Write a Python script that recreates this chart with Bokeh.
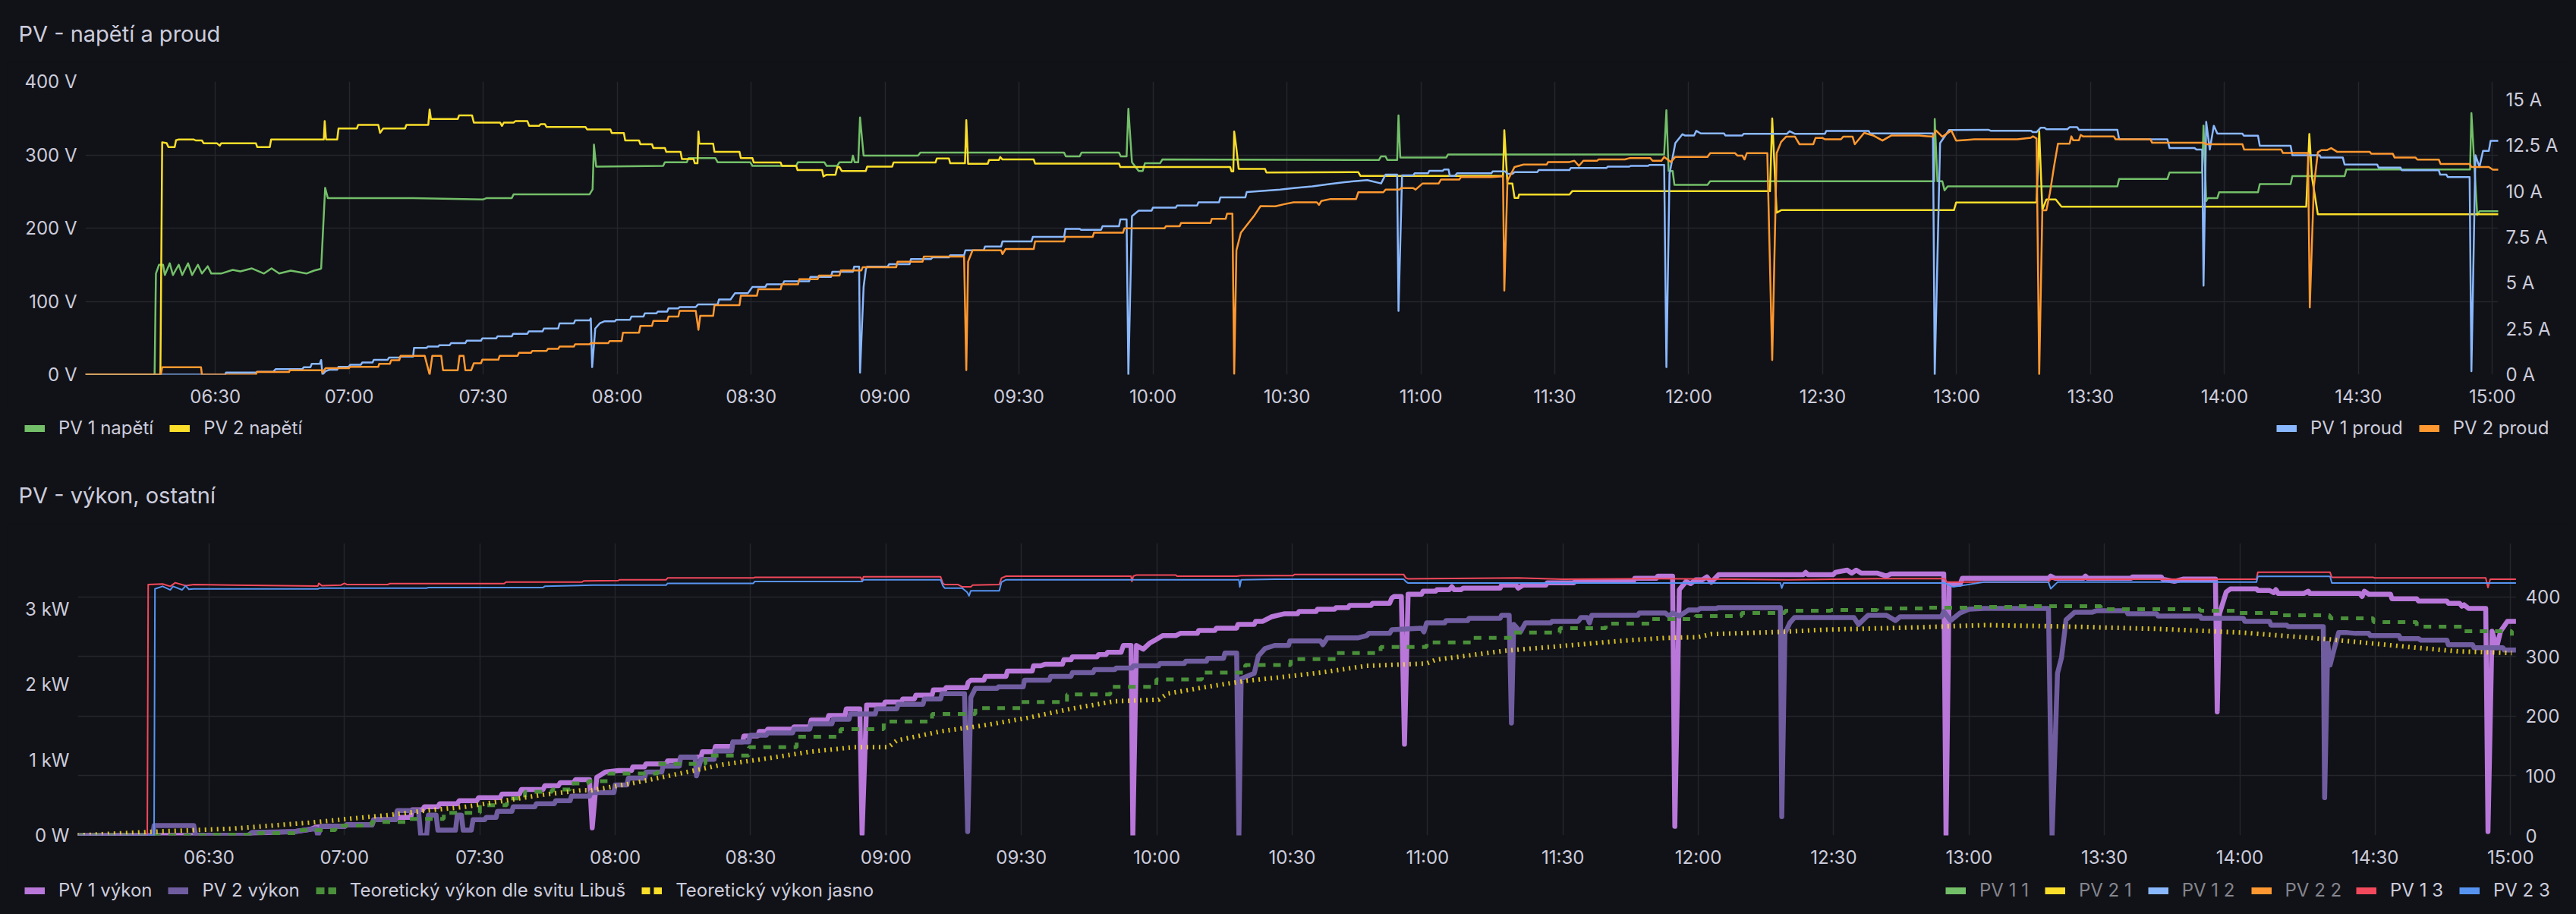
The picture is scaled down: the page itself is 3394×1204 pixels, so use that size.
from bokeh.plotting import figure
from bokeh.models import Range1d, LinearAxis, FixedTicker, Label, Legend, LegendItem, ColumnDataSource
from bokeh.layouts import column
from bokeh.embed import file_html
from bokeh.resources import INLINE
from bokeh.core.properties import value
from jinja2 import Template

# ---------------------------------------------------------------- data
# time = minutes after 06:00
x_tick_labels = ["06:30", "07:00", "07:30", "08:00", "08:30", "09:00", "09:30", "10:00",
                 "10:30", "11:00", "11:30", "12:00", "12:30", "13:00", "13:30", "14:00",
                 "14:30", "15:00"]
x_window = (0.9, 541.3)

top_title = "PV - napětí a proud"
bottom_title = "PV - výkon, ostatní"

top_left_ticks = [0, 100, 200, 300, 400]
top_left_labels = ["0 V", "100 V", "200 V", "300 V", "400 V"]
top_right_ticks = [0, 2.5, 5, 7.5, 10, 12.5, 15]
top_right_labels = ["0 A", "2.5 A", "5 A", "7.5 A", "10 A", "12.5 A", "15 A"]
bot_left_ticks = [0, 1, 2, 3]
bot_left_labels = ["0 W", "1 kW", "2 kW", "3 kW"]
bot_right_ticks = [0, 100, 200, 300, 400]
bot_right_labels = ["0", "100", "200", "300", "400"]

# PV 1 napětí [V]
pv1_napeti = [(0.9, 0), (16.4, 0), (16.7, 138), (17.4, 150), (18.3, 150), (18.7, 136), (19.8, 152), (20.5, 136),
              (21.8, 150), (22.6, 136), (23.9, 152), (24.8, 136), (26.1, 150), (27.0, 138), (28.3, 148), (29.1, 138),
              (31.3, 138), (33.9, 143), (35.6, 141), (38.2, 145), (40.9, 138), (42.6, 145), (44.3, 138), (46.9, 142),
              (50.4, 138), (52.1, 142), (53.4, 144), (53.7, 145), (54.6, 255), (55.2, 241), (74.3, 241), (89.9, 239),
              (90.8, 241), (96.4, 241), (96.8, 246), (113.8, 246), (114.5, 253), (114.8, 314), (115.3, 284),
              (130.3, 285), (130.7, 290), (135.6, 290), (136.0, 295.5), (142.0, 295.5), (142.5, 290), (149.8, 290),
              (150.3, 285), (160.1, 285), (160.5, 290), (166.4, 290), (166.9, 285), (169.3, 285), (169.8, 290),
              (172.5, 290), (172.8, 299), (173.2, 290), (174.0, 290), (174.4, 351), (175.2, 299), (187.4, 299),
              (187.9, 303), (220.1, 303), (220.5, 298), (223.6, 298), (224.0, 303), (232.4, 303), (232.8, 298),
              (234.1, 298), (234.5, 363), (235.3, 290), (236.8, 278), (237.7, 278), (238.2, 288.5), (241.6, 288.5),
              (242.1, 293.7), (290.6, 293), (291.1, 298), (292.1, 298), (292.5, 293), (294.7, 293), (295.0, 354),
              (295.4, 296.5), (305.7, 296.5), (306.1, 300.6), (354.5, 300.6), (355.0, 361), (355.5, 278),
              (356.4, 278), (356.8, 259), (364.2, 259), (364.8, 264), (415.0, 264), (415.1, 349), (415.7, 264),
              (416.8, 264), (417.3, 251.5), (418.0, 257), (456.0, 257), (456.4, 267), (467.2, 267), (467.7, 276),
              (475.0, 276), (475.3, 340), (475.9, 237), (476.3, 241), (478.4, 241), (478.8, 249), (487.5, 249),
              (487.9, 260), (494.8, 260), (495.2, 271), (506.9, 271), (507.3, 280), (535.0, 280), (535.3, 357),
              (536.6, 218), (537.1, 223), (541.4, 223)]

# PV 2 napětí [V]
pv2_napeti = [(0.9, 0), (17.7, 0), (18.1, 317), (19.1, 316), (19.5, 310.6), (20.9, 310.6), (21.2, 320), (21.8, 321),
              (25.2, 321), (25.6, 319.7), (27.0, 319.7), (27.4, 315.7), (30.4, 315.7), (31.0, 312.6), (31.3, 315.7),
              (39.1, 315.7), (39.4, 310.6), (42.2, 310.6), (42.5, 321), (54.3, 321), (54.5, 346), (54.8, 321),
              (57.3, 321), (57.6, 336), (61.7, 336), (62.0, 341), (66.5, 341), (66.9, 330), (67.6, 336), (72.5, 336),
              (72.8, 341), (77.7, 341), (78.0, 362), (78.3, 349), (84.3, 349), (84.6, 354), (87.5, 354), (87.9, 344),
              (93.8, 344), (94.2, 339.6), (94.6, 344), (96.8, 344), (97.2, 346), (99.9, 346), (100.3, 339.6),
              (102.5, 339.6), (102.9, 342), (103.8, 342), (104.2, 338), (112.9, 338), (113.3, 334.6), (118.5, 334.6),
              (118.8, 329.7), (121.5, 329.7), (121.8, 319.7), (124.9, 319.7), (125.2, 314.5), (127.8, 314.5),
              (128.1, 309.3), (130.7, 309.3), (131.0, 304.1), (134.2, 304.1), (134.5, 294.4), (137.1, 294.4),
              (137.4, 288.5), (138.0, 288.5), (138.2, 331.8), (138.4, 315.2), (141.5, 315.2), (141.8, 304.1),
              (147.4, 304.1), (147.7, 295.5), (150.3, 295.5), (150.6, 289.6), (156.6, 289.6), (156.9, 285.1),
              (160.1, 285.1), (160.4, 279.2), (165.9, 279.2), (166.2, 270.5), (166.9, 272.9), (168.9, 272.9),
              (169.3, 283.3), (169.8, 283.3), (170.3, 278.1), (175.7, 278.1), (176.0, 284.0), (181.6, 284.0),
              (181.9, 289.6), (191.3, 289.6), (191.6, 295.1), (194.3, 295.1), (194.6, 288.5), (197.9, 288.5),
              (198.2, 347.4), (198.6, 287.8), (203.0, 287.8), (203.3, 293.0), (205.5, 293.0), (205.8, 297.2),
              (206.3, 293.7), (213.3, 293.7), (213.6, 288.2), (232.4, 288.2), (232.7, 283.3), (257.3, 283.3),
              (257.6, 277.5), (258.0, 277.5), (258.2, 331.8), (258.7, 308.3), (259.2, 280.9), (265.1, 280.9),
              (265.4, 276.0), (286.0, 276.4), (286.5, 271.2), (318.4, 271.2), (318.7, 333.6), (319.4, 260.8),
              (320.5, 260.8), (321.0, 241.1), (321.8, 241.1), (322.0, 245.9), (333.3, 245.9), (333.9, 250.4),
              (378.2, 250.4), (378.7, 349.8), (379.7, 221), (380.7, 224.5), (419.4, 224.5), (419.9, 235.1),
              (437.9, 235.1), (438.5, 332.4), (439.2, 225.2), (440.1, 239.1), (442.2, 239.1), (443.5, 229.2),
              (498.3, 229.2), (499.0, 328.4), (499.6, 268.9), (500.9, 218.8), (541.4, 218.8)]

# PV 1 proud [A]
pv1_proud = [(0.9, 0), (32.2, 0), (32.4, 0.11), (39.1, 0.11), (39.4, 0.16), (43.0, 0.16), (43.5, 0.3), (49.5, 0.3),
             (49.8, 0.4), (51.3, 0.4), (51.6, 0.59), (53.4, 0.59), (53.7, 0.8), (54.0, 0), (54.7, 0.19), (55.6, 0.27),
             (57.3, 0.27), (57.6, 0.43), (59.9, 0.43), (60.2, 0.54), (62.6, 0.54), (62.9, 0.66), (65.2, 0.66),
             (65.5, 0.81), (68.6, 0.81), (68.9, 0.93), (71.2, 0.93), (71.5, 0.98), (74.3, 0.98), (74.5, 1.46),
             (77.3, 1.46), (77.6, 1.53), (79.9, 1.53), (80.2, 1.61), (82.5, 1.61), (82.8, 1.72), (86.0, 1.72),
             (86.3, 1.85), (89.5, 1.85), (89.8, 1.98), (92.9, 1.98), (93.2, 2.09), (96.4, 2.09), (96.7, 2.23),
             (99.9, 2.23), (100.2, 2.36), (103.3, 2.36), (103.6, 2.52), (106.8, 2.52), (107.1, 2.8), (110.3, 2.8),
             (110.6, 2.96), (113.8, 2.96), (114.1, 3.07), (114.4, 0.41), (115.1, 2.52), (116.1, 2.8), (117.1, 2.91),
             (119.5, 2.91), (119.8, 3.0), (122.9, 3.0), (123.2, 3.17), (125.9, 3.17), (126.2, 3.35), (128.8, 3.35),
             (129.1, 3.44), (131.2, 3.44), (131.5, 3.62), (133.7, 3.62), (134.0, 3.69), (137.6, 3.69), (138.1, 3.83),
             (142.5, 3.83), (142.8, 4.1), (145.4, 4.1), (146.4, 4.45), (149.3, 4.45), (150.3, 4.79), (153.2, 4.79),
             (153.5, 4.93), (157.1, 4.93), (157.4, 5.1), (163.0, 5.1), (163.3, 5.34), (167.9, 5.34), (168.2, 5.62),
             (172.8, 5.62), (173.1, 5.9), (174.2, 5.9), (174.4, 0.11), (175.2, 4.79), (175.7, 5.76), (176.0, 5.9),
             (180.6, 5.9), (180.9, 6.03), (185.5, 6.03), (185.8, 6.31), (190.3, 6.31), (190.6, 6.4), (194.3, 6.4),
             (194.6, 6.52), (197.7, 6.52), (198.0, 6.79), (202.1, 6.79), (202.4, 7.0), (206.0, 7.0), (206.3, 7.27),
             (212.8, 7.27), (213.1, 7.52), (220.1, 7.52), (220.4, 7.96), (223.6, 7.96), (223.9, 7.91), (228.4, 7.91),
             (228.7, 8.1), (232.4, 8.1), (232.7, 8.48), (234.1, 8.48), (234.5, 0), (235.3, 8.65), (236.8, 8.95),
             (239.7, 8.95), (240.0, 9.12), (245.1, 9.12), (245.4, 9.23), (249.9, 9.23), (250.2, 9.41), (254.8, 9.41),
             (255.1, 9.68), (260.7, 9.68), (261.0, 9.97), (268.5, 10.1), (271.5, 10.19), (275.7, 10.28),
             (279.8, 10.41), (282.9, 10.51), (288.0, 10.62), (291.1, 10.44), (292.1, 10.92), (294.7, 10.92),
             (295.0, 3.48), (295.8, 10.88), (298.3, 10.88), (298.6, 10.99), (301.6, 10.99), (301.9, 11.13),
             (304.9, 11.13), (305.2, 11.2), (306.2, 11.2), (306.5, 10.85), (307.6, 10.85), (308.1, 10.99),
             (315.8, 10.99), (316.1, 11.1), (318.9, 11.1), (319.4, 10.96), (320.5, 10.96), (321.0, 11.06),
             (326.1, 11.06), (326.4, 11.17), (333.3, 11.17), (333.6, 11.29), (341.6, 11.29), (341.9, 11.36),
             (346.7, 11.36), (347.0, 11.4), (350.9, 11.4), (351.2, 11.45), (354.5, 11.45), (355.0, 0.41),
             (355.7, 10.96), (357.0, 12.64), (358.6, 13.13), (359.1, 13.06), (361.2, 13.06), (361.7, 13.31),
             (362.7, 13.17), (367.9, 13.17), (368.2, 13.06), (372.0, 13.06), (372.3, 13.15), (382.0, 13.15),
             (382.6, 13.29), (383.8, 13.15), (390.5, 13.15), (390.8, 13.31), (400.3, 13.31), (400.6, 13.17),
             (414.7, 13.17), (415.1, 0), (416.3, 12.64), (418.3, 13.36), (427.1, 13.37), (427.6, 13.32),
             (436.6, 13.32), (437.1, 13.24), (437.9, 13.24), (438.8, 13.48), (439.7, 13.48), (440.1, 13.4),
             (444.8, 13.4), (445.3, 13.51), (447.0, 13.51), (447.4, 13.37), (456.0, 13.37), (456.4, 12.85),
             (467.2, 12.85), (467.7, 12.37), (473.3, 12.37), (473.7, 12.29), (475.0, 12.29), (475.3, 4.86),
             (475.9, 13.8), (476.7, 12.29), (477.6, 13.59), (478.4, 13.16), (484.0, 13.16), (484.3, 13.05),
             (487.5, 13.05), (487.9, 12.5), (494.8, 12.5), (495.2, 11.98), (501.3, 11.98), (501.6, 11.85),
             (506.5, 11.85), (506.9, 11.47), (514.2, 11.47), (514.5, 11.31), (519.4, 11.31), (519.7, 11.16),
             (528.0, 11.16), (528.3, 10.92), (529.7, 10.92), (530.0, 10.79), (534.9, 10.79), (535.3, 0.19),
             (536.2, 11.98), (537.1, 11.34), (537.9, 12.22), (539.2, 12.22), (539.6, 12.77), (541.4, 12.77)]

# PV 2 proud [A]
pv2_proud = [(0.9, 0), (17.8, 0), (18.1, 0.4), (26.8, 0.4), (27.0, 0), (39.1, 0), (39.3, 0.14), (46.5, 0.14),
             (46.7, 0.24), (53.9, 0.24), (54.0, 0.11), (54.7, 0.35), (59.9, 0.35), (60.2, 0.43), (66.5, 0.43),
             (66.7, 0.59), (69.1, 0.59), (69.4, 0.79), (71.2, 0.79), (71.5, 1.03), (76.9, 1.03), (78.0, 0),
             (78.6, 1.03), (80.6, 1.03), (81.0, 0.24), (84.3, 0.24), (84.7, 1.03), (85.6, 1.03), (86.0, 0.24),
             (87.3, 0.24), (87.9, 0.62), (89.5, 0.62), (89.8, 0.82), (93.4, 0.82), (93.7, 1.03), (97.7, 1.03),
             (98.0, 1.19), (100.7, 1.19), (101.0, 1.3), (104.2, 1.3), (104.5, 1.41), (106.8, 1.41), (107.1, 1.53),
             (110.3, 1.53), (110.6, 1.66), (113.8, 1.66), (114.1, 1.72), (118.0, 1.72), (118.3, 1.83), (121.0, 1.83),
             (121.3, 2.29), (124.9, 2.29), (125.2, 2.66), (127.8, 2.66), (128.1, 2.93), (131.2, 2.93), (131.5, 3.17),
             (133.7, 3.17), (134.0, 3.48), (137.6, 3.48), (138.2, 2.45), (138.6, 3.21), (141.5, 3.21), (141.8, 3.79),
             (147.4, 3.79), (147.7, 4.31), (151.3, 4.31), (151.6, 4.66), (156.6, 4.66), (156.9, 4.93), (160.5, 4.93),
             (160.8, 5.21), (164.9, 5.21), (165.2, 5.41), (169.8, 5.41), (170.1, 5.69), (174.7, 5.69), (175.0, 5.87),
             (182.5, 5.87), (182.8, 6.17), (188.4, 6.17), (188.7, 6.45), (197.7, 6.45), (198.2, 0.25), (198.6, 6.17),
             (199.6, 6.79), (206.0, 6.79), (206.3, 6.58), (207.0, 6.86), (213.3, 6.86), (213.6, 7.27), (220.1, 7.27),
             (220.4, 7.52), (226.5, 7.52), (226.8, 7.75), (233.3, 7.75), (233.6, 7.99), (242.6, 7.99), (242.9, 8.1),
             (246.0, 8.1), (246.3, 8.28), (252.9, 8.28), (253.2, 8.51), (256.3, 8.51), (256.6, 8.79), (257.8, 8.79),
             (258.2, 0.04), (258.7, 6.79), (259.7, 7.75), (262.6, 8.65), (264.1, 9.2), (267.4, 9.19), (269.5, 9.31),
             (271.5, 9.41), (276.7, 9.41), (277.2, 9.27), (277.7, 9.48), (279.8, 9.59), (285.5, 9.59), (286.0, 9.96),
             (291.6, 9.96), (292.1, 10.1), (295.2, 10.1), (295.6, 10.19), (298.3, 10.19), (298.8, 10.1),
             (300.4, 10.44), (304.0, 10.44), (304.5, 10.65), (308.6, 10.65), (309.0, 10.79), (315.8, 10.79),
             (318.4, 10.83), (318.7, 4.59), (319.4, 10.58), (321.0, 11.34), (323.0, 11.47), (328.2, 11.47),
             (328.5, 11.61), (333.3, 11.61), (334.4, 11.68), (335.4, 11.4), (336.4, 11.68), (339.5, 11.68),
             (339.8, 11.75), (345.7, 11.75), (346.7, 11.82), (351.4, 11.82), (351.9, 11.68), (353.9, 11.68),
             (354.5, 11.89), (356.0, 11.61), (357.0, 11.89), (364.2, 11.89), (364.8, 12.09), (370.4, 12.09),
             (370.9, 11.96), (372.0, 11.96), (372.5, 11.75), (373.0, 12.09), (377.6, 12.09), (378.7, 0.8),
             (379.7, 12.09), (380.7, 12.71), (381.8, 12.99), (383.8, 12.99), (384.8, 12.58), (387.9, 12.58),
             (388.4, 12.92), (390.0, 12.92), (390.5, 12.85), (394.1, 12.85), (394.6, 12.99), (396.7, 12.99),
             (397.2, 12.58), (399.3, 13.2), (401.3, 13.06), (403.4, 12.78), (405.4, 13.06), (411.6, 13.06),
             (414.7, 12.99), (415.4, 13.33), (416.8, 12.99), (418.8, 13.33), (419.9, 12.78), (421.9, 12.81),
             (424.0, 12.85), (433.6, 12.85), (436.6, 12.93), (437.1, 13.01), (437.9, 12.9), (438.5, 0),
             (439.2, 8.97), (440.1, 8.97), (440.9, 9.92), (441.8, 11.34), (442.7, 12.61), (445.3, 12.61),
             (445.7, 13.01), (446.1, 12.8), (447.4, 12.8), (447.8, 13.09), (448.3, 13.01), (455.2, 13.01),
             (455.6, 12.85), (463.4, 12.85), (463.8, 12.66), (475.4, 12.66), (475.8, 12.58), (484.0, 12.58),
             (484.4, 12.29), (492.7, 12.29), (493.1, 12.1), (498.7, 12.1), (499.1, 3.67), (500.0, 10.24),
             (500.9, 12.14), (501.7, 12.26), (503.0, 12.26), (503.9, 12.37), (505.2, 12.17), (512.5, 12.17),
             (512.9, 12.06), (517.7, 12.06), (518.1, 11.85), (522.8, 11.85), (523.2, 11.74), (528.0, 11.74),
             (528.4, 11.5), (534.9, 11.5), (535.3, 11.34), (539.2, 11.34), (540.1, 11.19), (541.4, 11.19)]

# PV 1 výkon [kW]
pv1_vykon = [(0.8, 0), (38.6, 0), (39.5, 0.03), (48.9, 0.05), (52.4, 0.08), (53.7, 0.11), (55.8, 0.12), (60.1, 0.12),
             (60.5, 0.14), (66.1, 0.14), (66.5, 0.21), (71.3, 0.21), (71.7, 0.24), (74.7, 0.24), (75.0, 0.34),
             (77.3, 0.34), (77.7, 0.38), (80.7, 0.38), (81.1, 0.42), (85.0, 0.42), (85.4, 0.46), (89.3, 0.46),
             (89.7, 0.5), (94.5, 0.5), (94.9, 0.55), (98.8, 0.55), (99.2, 0.61), (104.0, 0.61), (104.4, 0.66),
             (107.4, 0.66), (107.8, 0.7), (110.8, 0.7), (111.2, 0.74), (114.3, 0.74), (114.9, 0.1), (115.9, 0.77),
             (117.8, 0.84), (120.7, 0.86), (123.6, 0.86), (123.9, 0.91), (126.5, 0.91), (126.8, 0.95), (131.3, 0.95),
             (131.6, 0.99), (134.2, 0.99), (134.5, 1.04), (139.0, 1.04), (139.3, 1.11), (141.9, 1.11), (142.2, 1.18),
             (145.8, 1.18), (146.1, 1.24), (148.2, 1.24), (148.5, 1.32), (151.6, 1.32), (151.9, 1.38), (153.5, 1.38),
             (153.8, 1.41), (159.3, 1.41), (159.6, 1.44), (163.1, 1.44), (163.4, 1.53), (167.0, 1.53), (167.3, 1.59),
             (170.9, 1.59), (171.2, 1.68), (174.2, 1.68), (174.7, 0.02), (175.7, 1.73), (179.5, 1.73), (179.8, 1.77),
             (183.4, 1.77), (183.7, 1.81), (186.3, 1.81), (186.6, 1.86), (190.2, 1.86), (190.5, 1.93), (193.0, 1.93),
             (193.3, 1.96), (197.9, 1.96), (198.2, 2.03), (198.8, 2.06), (201.7, 2.06), (202.0, 2.11), (206.6, 2.11),
             (206.9, 2.18), (212.4, 2.18), (212.7, 2.25), (214.3, 2.25), (215.2, 2.27), (219.1, 2.27), (219.4, 2.33),
             (221.0, 2.33), (221.3, 2.37), (226.8, 2.37), (227.1, 2.4), (228.8, 2.4), (229.1, 2.43), (232.1, 2.43),
             (232.6, 2.52), (234.3, 2.52), (234.7, 0), (235.5, 2.52), (237.0, 2.47), (238.4, 2.55), (239.9, 2.6),
             (241.3, 2.65), (244.2, 2.65), (245.2, 2.68), (249.0, 2.68), (249.3, 2.72), (252.9, 2.72), (253.2, 2.75),
             (257.7, 2.75), (258.0, 2.8), (261.6, 2.8), (261.9, 2.84), (263.5, 2.84), (265.4, 2.9), (268.2, 2.94),
             (271.2, 2.94), (271.5, 2.97), (275.3, 2.97), (275.6, 3.0), (279.4, 3.0), (279.7, 3.02), (282.4, 3.02),
             (282.7, 3.05), (287.5, 3.05), (287.8, 3.08), (291.6, 3.08), (292.1, 3.15), (292.6, 3.17), (294.2, 3.17),
             (294.9, 1.21), (295.7, 3.2), (298.7, 3.2), (299.0, 3.24), (301.8, 3.24), (302.1, 3.26), (304.8, 3.26),
             (305.4, 3.3), (305.9, 3.26), (307.4, 3.26), (307.9, 3.28), (316.1, 3.28), (316.4, 3.32), (319.6, 3.32),
             (320.1, 3.28), (321.2, 3.32), (326.2, 3.32), (326.5, 3.35), (332.4, 3.35), (332.7, 3.37), (345.6, 3.37),
             (345.9, 3.41), (350.7, 3.41), (351.0, 3.44), (354.3, 3.44), (354.8, 0.12), (355.8, 3.26), (357.3, 3.37),
             (358.3, 3.34), (359.4, 3.39), (360.9, 3.39), (361.9, 3.43), (362.9, 3.36), (364.5, 3.46), (383.3, 3.46),
             (383.8, 3.49), (384.3, 3.46), (389.9, 3.46), (390.4, 3.49), (393.0, 3.52), (394.0, 3.48), (395.0, 3.52),
             (396.1, 3.48), (399.6, 3.48), (401.7, 3.44), (402.7, 3.47), (414.4, 3.47), (414.9, 0), (415.6, 3.33),
             (418.0, 3.33), (418.5, 3.41), (437.6, 3.41), (438.1, 3.44), (439.1, 3.41), (445.3, 3.41), (445.8, 3.44),
             (446.3, 3.41), (455.9, 3.41), (456.2, 3.43), (462.6, 3.43), (462.9, 3.4), (465.5, 3.37), (467.4, 3.4),
             (474.6, 3.4), (475.0, 1.64), (475.5, 2.94), (477.0, 3.23), (477.9, 3.27), (483.7, 3.27), (484.0, 3.25),
             (486.6, 3.25), (487.5, 3.22), (488.0, 3.26), (488.5, 3.21), (494.2, 3.21), (495.2, 3.24), (495.5, 3.21),
             (506.6, 3.21), (507.1, 3.17), (507.6, 3.24), (508.6, 3.2), (513.4, 3.2), (513.7, 3.14), (519.2, 3.14),
             (519.6, 3.11), (525.9, 3.11), (526.2, 3.08), (528.7, 3.08), (529.2, 3.04), (529.7, 3.06), (530.7, 3.01),
             (534.5, 3.01), (535.0, 0.05), (535.9, 2.71), (536.9, 2.49), (537.8, 2.71), (539.3, 2.84), (541.2, 2.84)]

# PV 2 výkon [kW]
pv2_vykon = [(0.8, 0), (17.5, 0), (17.8, 0.13), (26.6, 0.13), (27.0, 0), (38.6, 0), (39.5, 0.04), (48.9, 0.05),
             (52.4, 0.08), (53.7, 0.09), (54.1, 0), (54.9, 0.12), (60.1, 0.12), (60.5, 0.14), (66.1, 0.14),
             (66.5, 0.21), (71.3, 0.21), (71.7, 0.33), (76.4, 0.33), (76.9, 0), (78.2, 0), (78.6, 0.27), (80.3, 0.27),
             (80.7, 0.07), (84.6, 0.07), (85.0, 0.27), (85.9, 0.27), (86.3, 0.07), (88.1, 0.07), (88.5, 0.21),
             (91.1, 0.21), (91.4, 0.24), (93.6, 0.24), (93.9, 0.32), (97.1, 0.32), (97.4, 0.38), (102.2, 0.38),
             (102.5, 0.42), (106.5, 0.42), (106.8, 0.46), (110.0, 0.46), (110.3, 0.52), (114.3, 0.52), (114.6, 0.57),
             (119.7, 0.57), (120.0, 0.67), (122.6, 0.67), (122.9, 0.76), (126.5, 0.76), (126.8, 0.84), (130.3, 0.84),
             (130.6, 0.92), (134.2, 0.92), (134.5, 1.04), (137.7, 1.04), (138.0, 0.79), (139.0, 1.01), (141.9, 1.01),
             (142.2, 1.12), (145.8, 1.12), (146.1, 1.24), (149.6, 1.24), (149.9, 1.33), (153.5, 1.33), (153.8, 1.36),
             (159.3, 1.36), (159.6, 1.41), (163.1, 1.41), (163.4, 1.48), (168.0, 1.48), (168.3, 1.54), (171.8, 1.54),
             (172.1, 1.61), (177.6, 1.61), (177.9, 1.68), (182.4, 1.68), (182.7, 1.74), (188.2, 1.74), (188.5, 1.81),
             (192.1, 1.81), (192.4, 1.88), (197.4, 1.88), (198.1, 0.05), (198.8, 1.83), (199.8, 1.95), (204.6, 1.95),
             (204.9, 1.97), (210.4, 1.97), (210.7, 2.06), (216.2, 2.06), (216.5, 2.11), (221.0, 2.11), (221.3, 2.16),
             (225.9, 2.16), (226.2, 2.2), (230.7, 2.2), (231.0, 2.22), (234.5, 2.22), (234.8, 2.25), (240.4, 2.25),
             (240.7, 2.28), (246.1, 2.28), (246.4, 2.31), (251.0, 2.31), (251.3, 2.35), (254.8, 2.35), (255.1, 2.42),
             (257.7, 2.42), (258.2, 0), (258.7, 2.08), (261.6, 2.15), (262.5, 2.38), (264.0, 2.48), (266.1, 2.52),
             (269.2, 2.52), (269.5, 2.58), (276.3, 2.58), (276.8, 2.53), (277.8, 2.62), (284.5, 2.62), (286.5, 2.65),
             (287.0, 2.68), (291.6, 2.68), (292.1, 2.73), (298.7, 2.75), (299.2, 2.7), (299.8, 2.82), (303.8, 2.82),
             (304.1, 2.85), (308.9, 2.85), (309.2, 2.88), (316.1, 2.88), (316.4, 2.92), (318.1, 2.92), (318.6, 1.49),
             (319.1, 2.8), (320.6, 2.7), (321.7, 2.82), (327.3, 2.82), (327.6, 2.84), (333.4, 2.84), (334.0, 2.89),
             (335.4, 2.89), (335.9, 2.82), (336.4, 2.92), (346.6, 2.92), (346.9, 2.95), (352.7, 2.95), (353.5, 2.91),
             (354.3, 2.95), (355.8, 2.91), (357.8, 2.99), (359.9, 2.99), (360.4, 3.01), (364.0, 3.01), (364.3, 3.02),
             (378.2, 3.02), (378.5, 0.25), (379.2, 2.68), (380.3, 2.82), (381.3, 2.89), (394.5, 2.89), (395.5, 2.8),
             (397.6, 2.92), (401.7, 2.92), (403.7, 2.85), (404.7, 2.9), (413.9, 2.9), (414.4, 2.97), (415.9, 2.85),
             (418.0, 2.95), (420.0, 3.0), (423.3, 3.01), (437.6, 3.01), (438.4, 0), (439.6, 2.15), (440.5, 2.36),
             (441.5, 2.86), (443.4, 2.96), (447.2, 2.96), (448.2, 2.98), (454.9, 2.98), (455.2, 2.94), (461.6, 2.94),
             (461.9, 2.91), (471.2, 2.91), (471.5, 2.88), (480.8, 2.88), (481.1, 2.84), (486.6, 2.84), (486.9, 2.79),
             (490.4, 2.79), (490.7, 2.77), (498.5, 2.77), (498.8, 0.5), (499.5, 2.55), (500.0, 2.26), (500.9, 2.47),
             (501.9, 2.69), (503.8, 2.69), (505.7, 2.68), (508.6, 2.68), (508.9, 2.65), (515.3, 2.65), (515.6, 2.61),
             (519.6, 2.61), (520.1, 2.59), (525.9, 2.59), (526.2, 2.53), (531.6, 2.53), (531.9, 2.49), (538.3, 2.49),
             (538.6, 2.46), (541.2, 2.46)]

# Teoretický výkon dle svitu Libuš [kW] (value holds from each time on)
teor_svit = [(0.8, 0), (20, 0), (30, 0.01), (40, 0.03), (50, 0.07), (58, 0.13), (66, 0.18), (74, 0.22), (82, 0.3),
             (90, 0.4), (96, 0.49), (100, 0.58), (106, 0.61), (110, 0.69), (114, 0.72), (118.7, 0.82), (129.4, 0.95),
             (140.0, 1.06), (149.6, 1.17), (160.2, 1.31), (169.9, 1.41), (179.5, 1.51), (190.2, 1.61), (199.8, 1.69),
             (209.9, 1.77), (220.1, 1.87), (229.7, 1.97), (239.9, 2.07), (250.0, 2.16), (259.6, 2.26), (269.7, 2.34),
             (279.9, 2.42), (289.6, 2.5), (299.8, 2.56), (309.9, 2.62), (319.1, 2.69), (329.3, 2.75), (339.5, 2.81),
             (349.7, 2.87), (359.4, 2.91), (369.6, 2.95), (379.2, 2.98), (389.4, 2.99), (399.6, 3.01), (409.8, 3.02),
             (420.0, 3.03), (430.0, 3.04), (449.2, 3.0), (471.2, 2.98), (479.8, 2.95), (489.4, 2.92), (500.0, 2.88),
             (509.6, 2.83), (519.2, 2.77), (529.7, 2.71), (540.3, 2.65)]

# Teoretický výkon jasno [kW]
teor_jasno = [(0.8, 0), (18, 0.05), (35.2, 0.09), (52.4, 0.17), (61, 0.22), (69.6, 0.27), (78.2, 0.33), (86.8, 0.38),
              (95.4, 0.46), (104, 0.54), (112.6, 0.6), (114.9, 0.6), (124.5, 0.7), (134.2, 0.82), (143.8, 0.94),
              (153.5, 1.02), (163.1, 1.11), (172.8, 1.17), (180.5, 1.17), (182.4, 1.26), (192.1, 1.38),
              (201.7, 1.46), (211.4, 1.56), (221.0, 1.68), (230.7, 1.78), (240.4, 1.8), (242.3, 1.88), (250.0, 1.96),
              (259.6, 2.05), (266.1, 2.09), (276.3, 2.16), (286.5, 2.25), (299.8, 2.28), (301.8, 2.33), (317.1, 2.45),
              (327.3, 2.5), (342.6, 2.58), (352.7, 2.62), (359.9, 2.63), (362.9, 2.67), (378.2, 2.7), (388.4, 2.73),
              (408.8, 2.76), (423.3, 2.79), (442.4, 2.77), (461.6, 2.74), (480.8, 2.69), (500.0, 2.6), (519.2, 2.49),
              (528.7, 2.44), (540.3, 2.42)]

# PV 1 3 (right axis)
pv1_3 = [(0.8, 0), (16.3, 0), (16.5, 421), (19.7, 422), (21.4, 418), (22.5, 424), (24.8, 419), (26.6, 421),
         (35.2, 420), (54.1, 418.5), (54.3, 423), (55.0, 419), (59.2, 420), (60.0, 423), (60.5, 421), (69.6, 421),
         (70.0, 422.5), (95.4, 422.5), (95.8, 425), (112.6, 425), (113.0, 427), (120.7, 427.7), (121.0, 429),
         (131.3, 429), (131.6, 432), (150.6, 432), (150.9, 433), (174.4, 433), (174.7, 427), (175.0, 434),
         (192.1, 434), (192.6, 423), (193.0, 421), (195.9, 421), (196.9, 417), (198.8, 417), (199.2, 420),
         (205.1, 421), (205.6, 432), (206.6, 435), (234.3, 435), (234.5, 426), (234.8, 435), (235.5, 437),
         (244.2, 437), (244.5, 435), (257.7, 435), (258.7, 436), (270.2, 436), (270.5, 438), (294.7, 438),
         (295.2, 432), (295.7, 430.6), (320.0, 432), (330.0, 430), (350.0, 431), (380.0, 429), (400.0, 431),
         (414.6, 430.8), (415.1, 425), (437.6, 425), (438.1, 430), (483.7, 430), (484.0, 441.6), (500.0, 441.6),
         (500.4, 433), (509.6, 433), (509.9, 432), (534.5, 432), (535.0, 416), (535.5, 430), (541.2, 430)]

# PV 2 3 (right axis)
pv2_3 = [(0.8, 0), (17.8, 0), (18.0, 413.6), (19.7, 418), (21.4, 412), (22.0, 418), (24.0, 412), (24.8, 419),
         (25.5, 413), (26.6, 413.6), (54.1, 413.6), (54.5, 415), (78.2, 415), (78.6, 416), (104.0, 416),
         (104.4, 418), (114.9, 420), (131.3, 420), (131.6, 423), (150.6, 423), (150.9, 426), (174.7, 426),
         (175.0, 429), (192.1, 429), (192.6, 419), (193.0, 415), (196.9, 415), (198.0, 408), (198.4, 402),
         (198.8, 410.6), (205.1, 410.6), (205.6, 425), (206.6, 429), (258.2, 429), (258.4, 417), (258.7, 429),
         (266.1, 430), (294.7, 430), (295.2, 426), (295.7, 423.4), (378.2, 423.4), (378.5, 415), (378.9, 423.4),
         (414.6, 423.5), (416.5, 417), (423.3, 425), (437.6, 425), (438.1, 414), (439.6, 425), (483.7, 425),
         (484.0, 434.7), (500.0, 434.7), (500.4, 423.5), (541.2, 423.5)]

# ---------------------------------------------------------------- style
BG = "#111217"
TXT = "#ccccdc"
TXT_DIM = "#85868f"
GRID = "#24262c"
FONT = "Inter"
GREEN, YELLOW, LBLUE, ORANGE = "#73BF69", "#FADE2A", "#8AB8FF", "#FF9830"
PURPLE, DPURPLE, RED, BLUE = "#B877D9", "#705DA0", "#F2495C", "#5794F2"
DGREEN = "#4a8f3a"
W = 3378


def hm(s):
    h, m = s.split(":")
    return (int(h) - 6) * 60 + int(m)


x_ticks = [hm(s) for s in x_tick_labels]


def src(pairs):
    return ColumnDataSource(dict(t=[a for a, _ in pairs], v=[b for _, b in pairs]))


def no_align(p):
    if "frame_align" in p.properties():
        p.frame_align = False


def style_axis(ax, standoff):
    ax.axis_line_color = None
    ax.major_tick_line_color = None
    ax.minor_tick_line_color = None
    ax.major_tick_in = 0
    ax.major_tick_out = 0
    ax.major_label_text_font = FONT
    ax.major_label_text_font_size = "24px"
    ax.major_label_text_color = TXT
    ax.major_label_standoff = standoff


def make_fig(h, left, right, top, bottom, y_end, y_loc, y_ticks, y_labels, y_standoff):
    p = figure(width=W, height=h, x_range=Range1d(*x_window), y_range=Range1d(0, y_end),
               output_backend="svg", toolbar_location=None, y_axis_location=y_loc,
               min_border_left=left, min_border_right=right, min_border_top=top, min_border_bottom=bottom,
               background_fill_color=BG, border_fill_color=BG, outline_line_color=None)
    no_align(p)
    p.xaxis.ticker = FixedTicker(ticks=x_ticks)
    p.xaxis.major_label_overrides = {t: s for t, s in zip(x_ticks, x_tick_labels)}
    style_axis(p.xaxis[0], 14)
    p.yaxis.ticker = FixedTicker(ticks=y_ticks)
    p.yaxis.major_label_overrides = {t: s for t, s in zip(y_ticks, y_labels)}
    style_axis(p.yaxis[0], y_standoff)
    p.grid.grid_line_color = GRID
    p.grid.grid_line_width = 1.5
    return p


def strip_fig(h):
    # a plain strip (no axes) whose frame is the whole strip: holds a title or a legend row
    s = figure(width=W, height=h, x_range=Range1d(0, 1), y_range=Range1d(0, 1),
               output_backend="svg", toolbar_location=None, x_axis_location=None, y_axis_location=None,
               min_border_left=0, min_border_right=0, min_border_top=0, min_border_bottom=0,
               background_fill_color=BG, border_fill_color=BG, outline_line_color=None)
    no_align(s)
    s.grid.visible = False
    return s


def add_legend(p, entries, x, y, color):
    items = []
    for label, kind, col in entries:
        # legend swatch only: its points lie outside the strip's ranges
        if kind == "bar":
            r = p.line(x=[-9, -8], y=[-9, -9], line_color=col, line_width=9, line_cap="butt")
        else:
            r = p.line(x=[-9, -8], y=[-9, -9], line_color=col, line_width=9, line_cap="butt",
                       line_dash="11 5")
        items.append(LegendItem(label=value(label), renderers=[r]))
    lg = Legend(items=items, location=(x, y), orientation="horizontal", padding=0, margin=0, spacing=21,
                label_standoff=18, glyph_width=27, glyph_height=28, label_height=28,
                border_line_color=None, background_fill_alpha=0,
                label_text_font=FONT, label_text_font_size="24px", label_text_color=color)
    p.add_layout(lg)


def title_strip(text, h, y):
    s = strip_fig(h)
    s.add_layout(Label(x=16, y=y, x_units="screen", y_units="screen", text=text, text_font=FONT,
                       text_font_size="29px", text_font_style="normal", text_color=TXT,
                       text_baseline="middle", text_align="left"))
    return s


# ---------------------------------------------------------------- top panel
t1 = title_strip(top_title, 72, 36)

p1 = make_fig(465, 104, 95, 27, 52, 400, "left", top_left_ticks, top_left_labels, 11)
p1.extra_y_ranges = {"amp": Range1d(0, 16)}
amp_axis = LinearAxis(y_range_name="amp", ticker=FixedTicker(ticks=top_right_ticks),
                      major_label_overrides={t: s for t, s in zip(top_right_ticks, top_right_labels)})
style_axis(amp_axis, 10)
p1.add_layout(amp_axis, "right")

for data, col in [(pv1_napeti, GREEN), (pv2_napeti, YELLOW)]:
    p1.line("t", "v", source=src(data), line_color=col, line_width=2.5, line_join="round")
for data, col in [(pv1_proud, LBLUE), (pv2_proud, ORANGE)]:
    p1.line("t", "v", source=src(data), y_range_name="amp", line_color=col, line_width=2.5, line_join="round")

l1 = strip_fig(45)
add_legend(l1, [("PV 1 napětí", "bar", GREEN), ("PV 2 napětí", "bar", YELLOW)], 24, 12, TXT)
add_legend(l1, [("PV 1 proud", "bar", LBLUE), ("PV 2 proud", "bar", ORANGE)], 2991, 12, TXT)

# ---------------------------------------------------------------- bottom panel
t2 = title_strip(bottom_title, 100, 38)

p2 = make_fig(460, 94, 71, 25, 50, 490.4, "right", bot_right_ticks, bot_right_labels, 12)
p2.extra_y_ranges = {"kw": Range1d(0, 3.877)}
kw_axis = LinearAxis(y_range_name="kw", ticker=FixedTicker(ticks=bot_left_ticks),
                     major_label_overrides={t: s for t, s in zip(bot_left_ticks, bot_left_labels)})
style_axis(kw_axis, 11)
p2.add_layout(kw_axis, "left")

p2.line("t", "v", source=src(pv1_vykon), y_range_name="kw", line_color=PURPLE, line_width=6.5, line_join="round")
p2.line("t", "v", source=src(pv2_vykon), y_range_name="kw", line_color=DPURPLE, line_width=6.5, line_join="round")
p2.step("t", "v", source=src(teor_svit), y_range_name="kw", mode="after", line_color=DGREEN, line_width=5,
        line_dash="10 10")
p2.line("t", "v", source=src(teor_jasno), y_range_name="kw", line_color=YELLOW, line_width=6,
        line_dash="2 6", line_alpha=0.85)
p2.line("t", "v", source=src(pv1_3), line_color=RED, line_width=2, line_join="round")
p2.line("t", "v", source=src(pv2_3), line_color=BLUE, line_width=2, line_join="round")

l2 = strip_fig(46)
add_legend(l2, [("PV 1 výkon", "bar", PURPLE), ("PV 2 výkon", "bar", DPURPLE),
                ("Teoretický výkon dle svitu Libuš", "dash", DGREEN),
                ("Teoretický výkon jasno", "dash", YELLOW)], 24, 9, TXT)
add_legend(l2, [("PV 1 1", "bar", GREEN), ("PV 2 1", "bar", YELLOW), ("PV 1 2", "bar", LBLUE),
                ("PV 2 2", "bar", ORANGE)], 2555, 9, TXT_DIM)
add_legend(l2, [("PV 1 3", "bar", RED), ("PV 2 3", "bar", BLUE)], 3096, 9, TXT)

layout = column(t1, p1, l1, t2, p2, l2, spacing=0)

PAGE = Template("""{% extends base %}
{% block preamble %}
<style>
html { background: #111217 !important; overflow: hidden !important; }
body { background: #111217 !important; margin: 8px !important; height: auto !important; }
</style>
{% endblock %}
""")

open("out.html", "w").write(file_html(layout, INLINE, "PV", template=PAGE))
